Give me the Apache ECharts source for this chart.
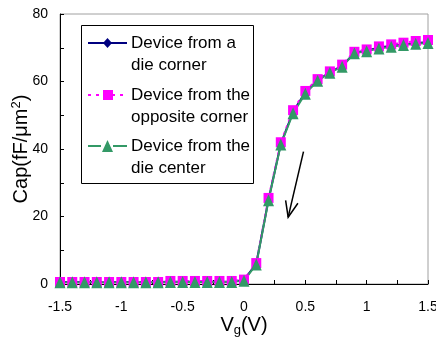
<!DOCTYPE html>
<html>
<head>
<meta charset="utf-8">
<script src="https://cdn.jsdelivr.net/npm/echarts@6/dist/echarts.min.js"></script>
<style>
  html, body { margin: 0; padding: 0; background: #fff; }
  #chart { width: 436px; height: 339px; }
</style>
</head>
<body>
<div id="chart"></div>
<script>
const vg = [-1.5, -1.4, -1.3, -1.2, -1.1, -1.0, -0.9, -0.8, -0.7, -0.6, -0.5, -0.4, -0.3, -0.2, -0.1,
  0, 0.1, 0.2, 0.3, 0.4, 0.5, 0.6, 0.7, 0.8, 0.9, 1.0, 1.1, 1.2, 1.3, 1.4, 1.5];
const capCorner = [0.6, 0.6, 0.6, 0.6, 0.6, 0.6, 0.6, 0.6, 0.6, 0.7, 0.7, 0.7, 0.7, 0.7, 0.7,
  1.2, 6.0, 25.0, 41.5, 51.0, 56.8, 60.3, 62.8, 64.6, 68.5, 69.2, 70.0, 70.6, 71.0, 71.4, 71.6];
const capOpposite = [0.6, 0.6, 0.6, 0.6, 0.6, 0.6, 0.6, 0.6, 0.6, 0.9, 0.9, 0.9, 0.9, 0.9, 0.9,
  1.3, 6.2, 25.5, 42.0, 51.5, 57.2, 60.7, 63.0, 65.0, 68.8, 69.5, 70.4, 71.0, 71.5, 72.0, 72.3];
const capCenter = [0.5, 0.5, 0.5, 0.5, 0.5, 0.5, 0.5, 0.5, 0.5, 0.6, 0.6, 0.6, 0.6, 0.6, 0.6,
  1.0, 5.8, 24.8, 41.3, 50.6, 56.4, 60.2, 62.6, 64.4, 68.4, 69.0, 69.8, 70.3, 70.8, 71.2, 71.4];
const xLabels = ['-1.5', '-1', '-0.5', '0', '0.5', '1', '1.5'];
const yLabels = ['0', '20', '40', '60', '80'];
const legendNames = [['Device from a', 'die corner'], ['Device from the', 'opposite corner'], ['Device from the', 'die center']];

const font = 'Liberation Sans, Arial, sans-serif';
const navy = '#000080';
const magenta = '#FF00FF';
const green = '#339966';

const toPairs = (ys) => vg.map((x, i) => [x, ys[i]]);

const chart = echarts.init(document.getElementById('chart'), null, { renderer: 'canvas' });

const option = {
  animation: false,
  backgroundColor: '#fff',
  grid: {
    left: 60,
    right: 8,
    top: 14,
    bottom: 55,
    containLabel: false,
    outerBoundsMode: 'none',
    show: true,
    borderColor: '#a0a0a0',
    borderWidth: 1,
  },
  xAxis: {
    type: 'value',
    min: -1.5,
    max: 1.5,
    interval: 0.25,
    name: 'V{sub|g}(V)',
    nameLocation: 'middle',
    nameGap: 30,
    nameMoveOverlap: false,
    nameTextStyle: {
      fontFamily: font,
      fontSize: 20,
      color: '#000',
      rich: { sub: { fontFamily: font, fontSize: 13, color: '#000', verticalAlign: 'bottom', padding: [10, 0, 0, 0] } },
    },
    axisLine: { onZero: false, lineStyle: { color: '#000', width: 1 } },
    axisTick: { inside: true, length: 4, lineStyle: { color: '#000' } },
    axisLabel: {
      margin: 16,
      fontFamily: font,
      fontSize: 14,
      color: '#000',
      formatter: (v) => {
        const s = String(Math.round(v * 100) / 100);
        return xLabels.includes(s) ? s : '';
      },
    },
    splitLine: { show: false },
  },
  yAxis: {
    type: 'value',
    min: 0,
    max: 80,
    interval: 10,
    name: 'Cap(fF/μm{sup|2})',
    nameLocation: 'middle',
    nameRotate: 90,
    nameGap: 27,
    nameMoveOverlap: false,
    nameTextStyle: {
      fontFamily: font,
      fontSize: 20,
      color: '#000',
      rich: { sup: { fontFamily: font, fontSize: 13, color: '#000', verticalAlign: 'top', padding: [0, 0, 10, 0] } },
    },
    axisLine: { show: true, onZero: false, lineStyle: { color: '#000', width: 1 } },
    axisTick: { show: true, inside: true, length: 4, lineStyle: { color: '#000' } },
    axisLabel: {
      margin: 12,
      fontFamily: font,
      fontSize: 14,
      color: '#000',
      formatter: (v) => (yLabels.includes(String(v)) ? String(v) : ''),
    },
    splitLine: { show: false },
  },
  series: [
    {
      name: legendNames[0].join(' '),
      type: 'line',
      data: toPairs(capCorner),
      symbol: 'diamond',
      symbolSize: 8,
      itemStyle: { color: navy },
      lineStyle: { color: navy, width: 2 },
    },
    {
      name: legendNames[1].join(' '),
      type: 'line',
      data: toPairs(capOpposite),
      symbol: 'rect',
      symbolSize: 10,
      itemStyle: { color: magenta },
      lineStyle: { color: magenta, width: 2, type: [3, 4] },
    },
    {
      name: legendNames[2].join(' '),
      type: 'line',
      data: toPairs(capCenter),
      symbol: 'triangle',
      symbolSize: [11, 12],
      itemStyle: { color: green },
      lineStyle: { color: green, width: 2 },
    },
  ],
};

chart.setOption(option);

// legend box drawn by hand so the sample sits on the first text line
const legendItems = [
  { y: 43, color: navy, mark: 'diamond' },
  { y: 95, color: magenta, mark: 'rect' },
  { y: 146, color: green, mark: 'triangle' },
];
const graphics = [
  {
    type: 'rect',
    shape: { x: 81.5, y: 25.5, width: 172, height: 158 },
    style: { fill: '#fff', stroke: '#000', lineWidth: 1 },
    z: 10,
  },
];
legendItems.forEach((it, i) => {
  graphics.push({
    type: 'line',
    shape: { x1: 88, y1: it.y, x2: 127, y2: it.y },
    style: { stroke: it.color, lineWidth: 2, lineDash: it.mark === 'rect' ? [3, 5] : null },
    z: 11,
  });
  if (it.mark === 'diamond') {
    graphics.push({ type: 'polygon', shape: { points: [[107.5, it.y - 5], [112, it.y], [107.5, it.y + 5], [103, it.y]] }, style: { fill: it.color }, z: 12 });
  } else if (it.mark === 'rect') {
    graphics.push({ type: 'rect', shape: { x: 103, y: it.y - 5, width: 10, height: 10 }, style: { fill: it.color }, z: 12 });
  } else {
    graphics.push({ type: 'rect', shape: { x: 101, y: it.y - 4, width: 12, height: 8 }, style: { fill: '#fff' }, z: 11.5 });
    graphics.push({ type: 'polygon', shape: { points: [[107.5, it.y - 6], [113, it.y + 6], [102, it.y + 6]] }, style: { fill: it.color }, z: 12 });
  }
  graphics.push({
    type: 'text',
    x: 131,
    y: it.y - 11,
    style: {
      text: legendNames[i].join('\n'),
      fontFamily: font,
      fontSize: 17,
      lineHeight: 22,
      fill: '#000',
      verticalAlign: 'top',
      align: 'left',
    },
    z: 12,
  });
});

// arrow annotation, placed in data coordinates
const tail = chart.convertToPixel({ gridIndex: 0 }, [0.485, 39.2]);
const tip = chart.convertToPixel({ gridIndex: 0 }, [0.36, 19.8]);
const dx = tail[0] - tip[0];
const dy = tail[1] - tip[1];
const len = Math.sqrt(dx * dx + dy * dy);
const ux = dx / len;
const uy = dy / len;
const wing = (ang) => {
  const c = Math.cos(ang), s = Math.sin(ang);
  return [tip[0] + 17 * (ux * c - uy * s), tip[1] + 17 * (ux * s + uy * c)];
};
graphics.push({
  type: 'line',
  shape: { x1: tail[0], y1: tail[1], x2: tip[0], y2: tip[1] },
  style: { stroke: '#000', lineWidth: 1.5 },
  z: 12,
});
graphics.push({
  type: 'polyline',
  shape: { points: [wing(0.38), tip, wing(-0.38)] },
  style: { stroke: '#000', lineWidth: 1.5, fill: null },
  z: 12,
});

chart.setOption({ graphic: graphics });
</script>
</body>
</html>
